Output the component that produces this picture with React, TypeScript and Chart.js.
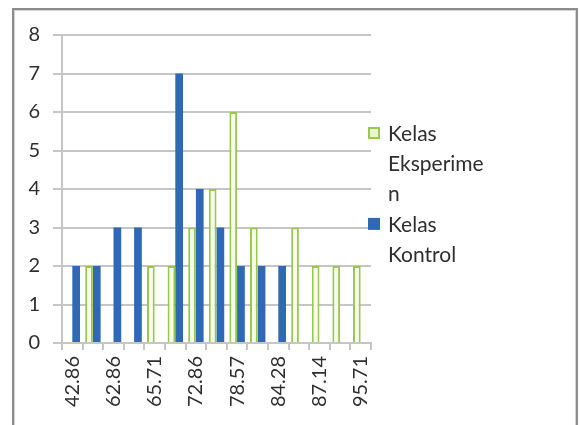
import React, { useEffect, useRef } from "react";
import { Chart, registerables } from "chart.js";

Chart.register(...registerables);

const categories = [
  "42.86", "60.00", "62.86", "64.29", "65.71", "71.43", "72.86", "75.71",
  "78.57", "81.43", "84.28", "85.71", "87.14", "91.43", "95.71",
];
const eksperimen = [0, 2, 0, 0, 2, 2, 3, 4, 6, 3, 0, 3, 2, 2, 2];
const kontrol = [2, 2, 3, 3, 0, 7, 4, 3, 2, 2, 2, 0, 0, 0, 0];
const seriesNames = ["Kelas Eksperimen", "Kelas Kontrol"];
const yTicks = [0, 1, 2, 3, 4, 5, 6, 7, 8];

const FONT = "Lato, 'DejaVu Sans', sans-serif";
const TEXT = "#2e2e2e";
const GRID = "#c6c6c6";

function wrap(ctx: CanvasRenderingContext2D, text: string, maxW: number): string[] {
  const out: string[] = [];
  let line = "";
  for (const word of text.split(" ")) {
    const cand = line ? line + " " + word : word;
    if (ctx.measureText(cand).width <= maxW) {
      line = cand;
      continue;
    }
    if (line) out.push(line);
    line = "";
    let piece = "";
    for (const ch of word) {
      if (ctx.measureText(piece + ch).width > maxW && piece) {
        out.push(piece);
        piece = ch;
      } else piece += ch;
    }
    line = piece;
  }
  if (line) out.push(line);
  return out;
}

const legendPlugin = {
  id: "sideLegend",
  afterDraw(chart: any) {
    const ctx = chart.ctx as CanvasRenderingContext2D;
    const area = chart.chartArea;
    ctx.save();
    ctx.font = `21px ${FONT}`;
    ctx.textBaseline = "middle";
    const markerX = area.right - 3;
    const textX = area.right + 17;
    const lineH = 30.3;
    let y = 123;
    chart.data.datasets.forEach((ds: any) => {
      const lines = wrap(ctx, ds.label, 102);
      ctx.fillStyle = ds.legendFill;
      ctx.fillRect(markerX, y - 6, 12, 12);
      if (ds.borderWidth) {
        ctx.strokeStyle = ds.borderColor;
        ctx.lineWidth = 2;
        ctx.strokeRect(markerX + 1, y - 5, 10, 10);
      }
      ctx.fillStyle = TEXT;
      lines.forEach((l, i) => ctx.fillText(l, textX, y + i * lineH + 1));
      y += lines.length * lineH;
    });
    ctx.restore();
  },
};

export default function App() {
  const ref = useRef<HTMLCanvasElement>(null);
  useEffect(() => {
    document.body.style.overflow = "hidden";
    const chart = new Chart(ref.current!, {
      type: "bar",
      data: {
        labels: categories,
        datasets: [
          {
            label: seriesNames[0],
            data: eksperimen,
            backgroundColor: "#f6fbec",
            borderColor: "#98c94c",
            borderWidth: 2,
            borderSkipped: "start",
            legendFill: "#e8f4d2",
          } as any,
          {
            label: seriesNames[1],
            data: kontrol,
            backgroundColor: "#2f69b6",
            borderWidth: 0,
            legendFill: "#2f69b6",
          } as any,
        ],
      },
      options: {
        responsive: false,
        animation: false,
        events: [],
        layout: { padding: { top: 25, right: 205, left: 0, bottom: 0 } },
        plugins: {
          legend: { display: false },
          tooltip: { enabled: false },
        },
        datasets: {
          bar: { categoryPercentage: 0.75, barPercentage: 1 },
        },
        scales: {
          x: {
            offset: true,
            afterFit(scale: any) {
              scale.height = 82;
            },
            grid: {
              offset: true,
              drawOnChartArea: false,
              drawTicks: true,
              tickLength: 7,
              color: GRID,
              lineWidth: 2,
            },
            border: { color: GRID, width: 2 },
            ticks: {
              autoSkip: false,
              minRotation: 90,
              maxRotation: 90,
              padding: 6,
              color: TEXT,
              font: { family: FONT, size: 20 },
              callback: (_v: any, i: number) => (i % 2 === 0 ? categories[i] : ""),
            },
          },
          y: {
            min: yTicks[0],
            max: yTicks[yTicks.length - 1],
            afterFit(scale: any) {
              scale.width = 48;
            },
            afterBuildTicks(scale: any) {
              scale.ticks = yTicks.map((v) => ({ value: v }));
            },
            grid: {
              color: GRID,
              lineWidth: 2,
              tickLength: 9,
            },
            border: { color: GRID, width: 2 },
            ticks: {
              padding: 13,
              color: TEXT,
              font: { family: FONT, size: 20 },
            },
          },
        },
      } as any,
      plugins: [legendPlugin],
    });
    return () => chart.destroy();
  }, []);

  return (
    <div
      style={{
        position: "fixed",
        left: 12,
        top: 8,
        width: 566,
        height: 430,
        boxSizing: "border-box",
        border: "2px solid #8c8c8c",
        boxShadow: "inset 0 0 0 1px #d4d4d4",
        background: "#ffffff",
        overflow: "hidden",
      }}
    >
      <canvas ref={ref} width={562} height={415} style={{ display: "block" }} />
    </div>
  );
}
